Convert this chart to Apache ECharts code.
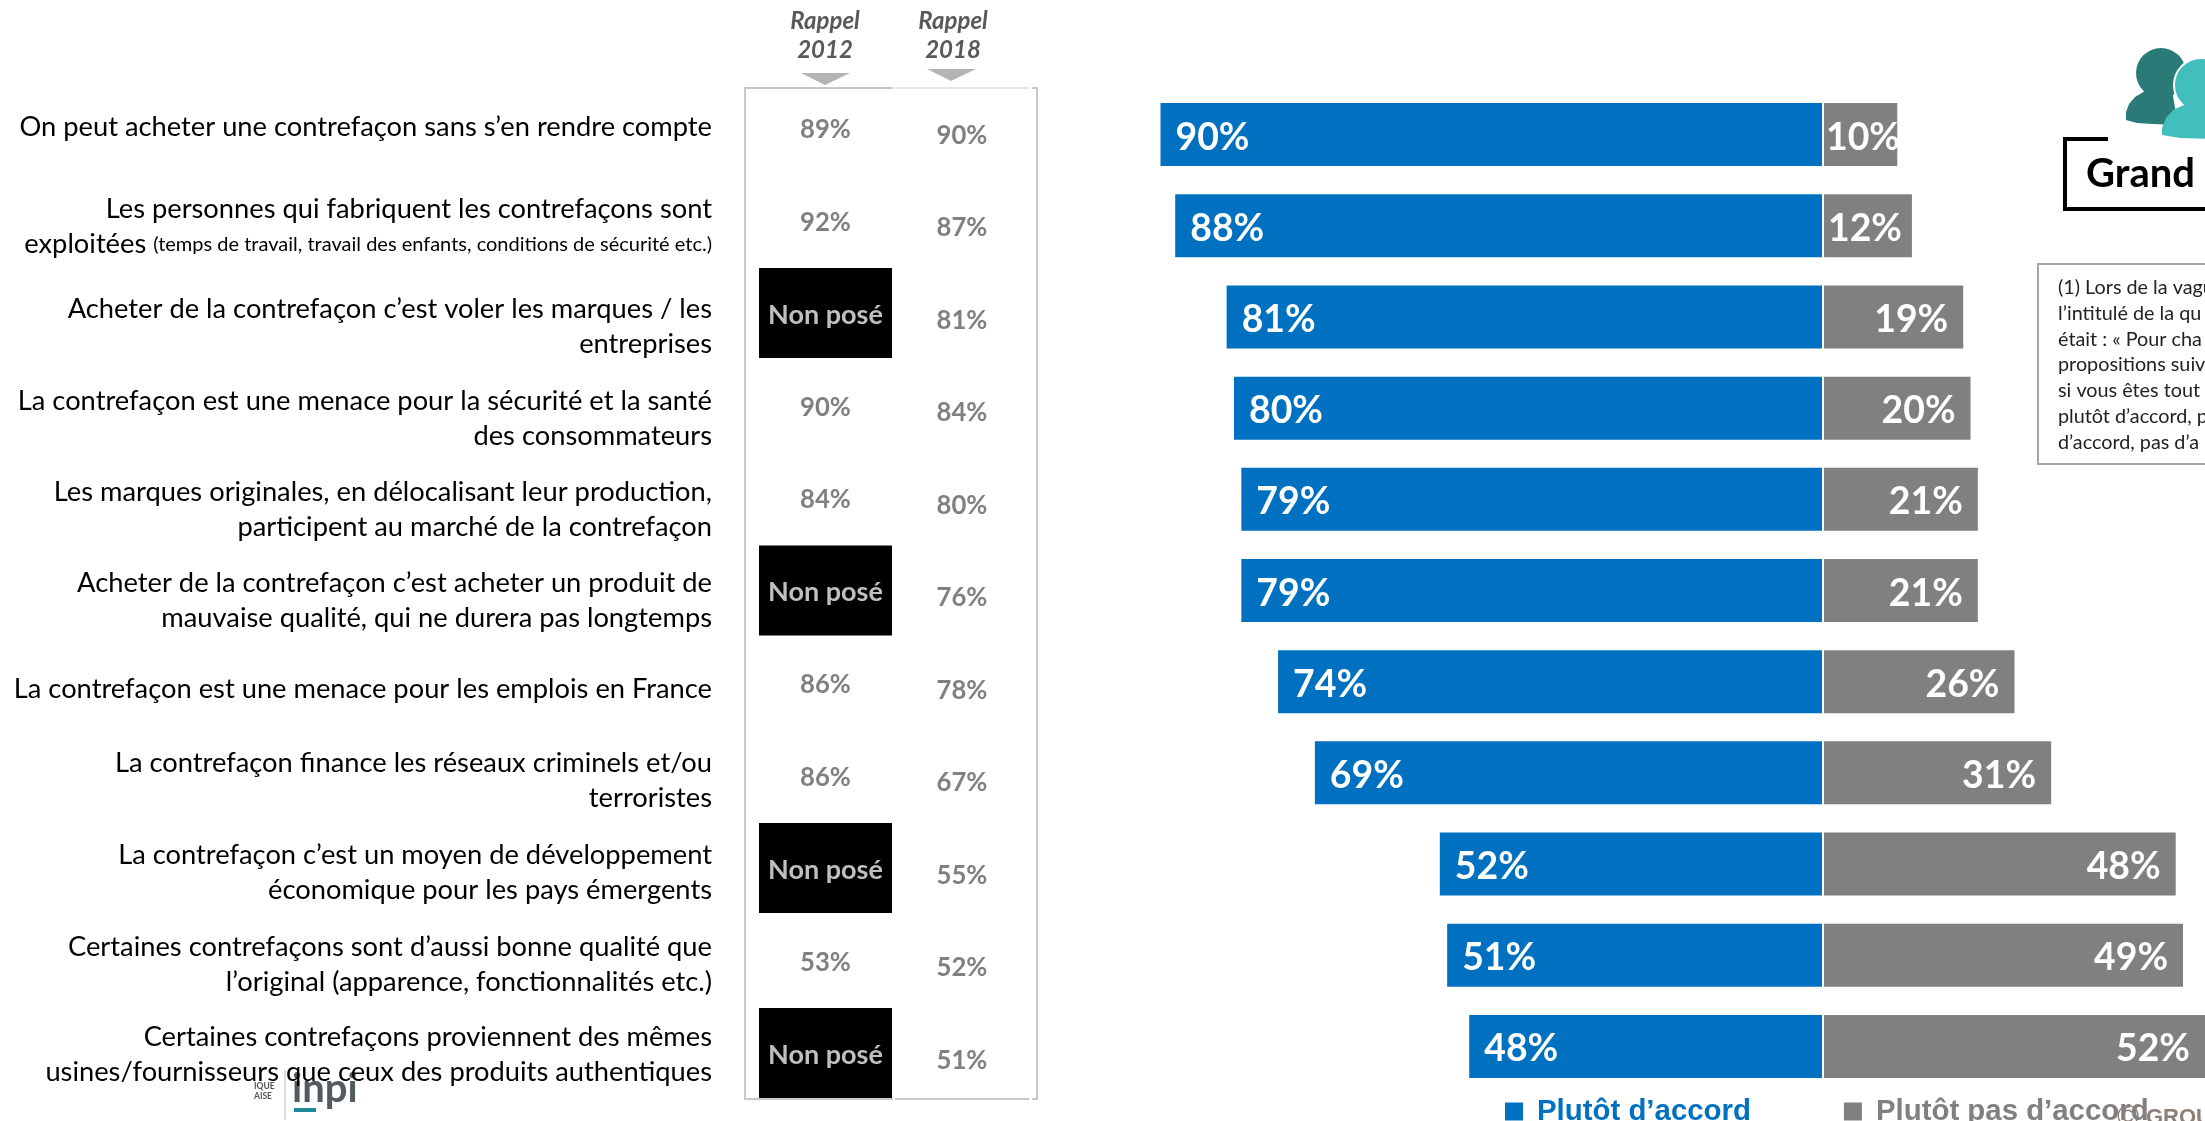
<!DOCTYPE html>
<html lang="fr">
<head>
<meta charset="utf-8">
<title>Perceptions de la contrefaçon</title>
<style>html,body{margin:0;padding:0;background:#fff;overflow:hidden}#chart{width:2205px;height:1121px}</style>
<script src="https://cdn.jsdelivr.net/npm/echarts@6/dist/echarts.min.js"></script>
</head>
<body>
<div id="chart"></div>
<script>
const statements = [
  'On peut acheter une contrefaçon sans s’en rendre compte',
  'Les personnes qui fabriquent les contrefaçons sont\nexploitées (temps de travail, travail des enfants, conditions de sécurité etc.)',
  'Acheter de la contrefaçon c’est voler les marques / les\nentreprises',
  'La contrefaçon est une menace pour la sécurité et la santé\ndes consommateurs',
  'Les marques originales, en délocalisant leur production,\nparticipent au marché de la contrefaçon',
  'Acheter de la contrefaçon c’est acheter un produit de\nmauvaise qualité, qui ne durera pas longtemps',
  'La contrefaçon est une menace pour les emplois en France',
  'La contrefaçon finance les réseaux criminels et/ou\nterroristes',
  'La contrefaçon c’est un moyen de développement\néconomique pour les pays émergents',
  'Certaines contrefaçons sont d’aussi bonne qualité que\nl’original (apparence, fonctionnalités etc.)',
  'Certaines contrefaçons proviennent des mêmes\nusines/fournisseurs que ceux des produits authentiques'
];
const agree = [90, 88, 81, 80, 79, 79, 74, 69, 52, 51, 48];
const disagree = [10, 12, 19, 20, 21, 21, 26, 31, 48, 49, 52];
const recall2012 = [89, 92, null, 90, 84, null, 86, 86, null, 53, null];
const recall2018 = [90, 87, 81, 84, 80, 76, 78, 67, 55, 52, 51];
const recallColumns = ['Rappel 2012', 'Rappel 2018'];
const seriesNames = ['Plutôt d’accord', 'Plutôt pas d’accord'];
const footnoteLines = [
  '(1) Lors de la vagu', 'l’intitulé de la qu', 'était : « Pour cha', 'propositions suiv',
  'si vous êtes tout a', 'plutôt d’accord, p', 'd’accord, pas d’a'
];

const BLUE = '#0070C0', GREY = '#808080', FRAME = '#c8c8c8';
const SANS = 'Lato, "Noto Sans", sans-serif';
const rowIds = statements.map((_, i) => i);

// Statement text sits slightly off the bar rows; per-row shift in pixels.
const statementShift = [-7, 1, 10, 11, 10, 10, 8, 8, 9, 9, 8];
const SMALL_NOTE = '(temps de travail, travail des enfants, conditions de sécurité etc.)';

function richStatement(text) {
  return text.split('\n').map(line => {
    if (line.includes(SMALL_NOTE)) {
      return `{a|${line.replace(SMALL_NOTE, '')}}{b|${SMALL_NOTE}}`;
    }
    return `{a|${line}}`;
  }).join('\n');
}

const hiddenAxis = { show: false };
const rowAxis = idx => ({ type: 'category', gridIndex: idx, data: rowIds, inverse: true, show: false });

function recallSeries(values, column, shiftY) {
  return {
    type: 'custom', name: recallColumns[column], coordinateSystem: 'cartesian2d',
    xAxisIndex: 2, yAxisIndex: 2, silent: true, clip: false, z: 4,
    data: values.map((v, i) => [column, i, v]),
    encode: { x: 0, y: 1 },
    renderItem(params, api) {
      const p = api.coord([column, params.dataIndex]);
      const v = values[params.dataIndex];
      const y = p[1] + shiftY;
      if (v === null) {
        return {
          type: 'group',
          children: [
            { type: 'rect', shape: { x: p[0] - 66.5, y: y - 45, width: 133, height: 90 }, style: { fill: '#000' } },
            { type: 'text', style: { text: 'Non posé', x: p[0], y: y + 2, align: 'center', verticalAlign: 'middle',
              fill: '#bfbfbf', font: `bold 27px ${SANS}` } }
          ]
        };
      }
      return { type: 'text', style: { text: v + '%', x: p[0], y: y + 2, align: 'center', verticalAlign: 'middle',
        fill: GREY, font: `bold 25.7px ${SANS}` } };
    }
  };
}

const logoAndDecor = [
  // Table frame
  { type: 'line', shape: { x1: 745, y1: 88, x2: 893, y2: 88 }, style: { stroke: FRAME, lineWidth: 2 } },
  { type: 'line', shape: { x1: 895, y1: 88, x2: 1029, y2: 88 }, style: { stroke: '#dcdcdc', lineWidth: 1.5 } },
  { type: 'line', shape: { x1: 1032, y1: 88, x2: 1038, y2: 88 }, style: { stroke: FRAME, lineWidth: 2 } },
  { type: 'line', shape: { x1: 745, y1: 87, x2: 745, y2: 1100 }, style: { stroke: FRAME, lineWidth: 2 } },
  { type: 'line', shape: { x1: 1037, y1: 87, x2: 1037, y2: 1100 }, style: { stroke: FRAME, lineWidth: 2 } },
  { type: 'line', shape: { x1: 745, y1: 1099, x2: 893, y2: 1099 }, style: { stroke: FRAME, lineWidth: 2 } },
  { type: 'line', shape: { x1: 895, y1: 1099, x2: 1029, y2: 1099 }, style: { stroke: FRAME, lineWidth: 2 } },
  { type: 'line', shape: { x1: 1032, y1: 1099, x2: 1038, y2: 1099 }, style: { stroke: FRAME, lineWidth: 2 } },
  // Column headers with their arrows
  { type: 'text', style: { text: 'Rappel\n2012', x: 825, y: 36, align: 'center', verticalAlign: 'middle', lineHeight: 29,
    fill: '#595959', font: `italic bold 24px ${SANS}` } },
  { type: 'text', style: { text: 'Rappel\n2018', x: 953, y: 36, align: 'center', verticalAlign: 'middle', lineHeight: 29,
    fill: '#595959', font: `italic bold 24px ${SANS}` } },
  { type: 'polygon', shape: { points: [[801, 73], [850, 73], [825, 85]] }, style: { fill: '#b4b4b4' } },
  { type: 'polygon', shape: { points: [[927, 69], [976, 69], [951, 81]] }, style: { fill: '#b4b4b4' } },
  // Audience badge
  { type: 'circle', shape: { cx: 2161, cy: 73, r: 25 }, style: { fill: '#2a7a78' } },
  { type: 'polygon', shape: { points: [[2126, 120], [2126, 112], [2129, 104], [2135, 97], [2145, 91], [2172, 90], [2178, 125], [2153, 124], [2137, 123]] }, style: { fill: '#2a7a78' } },
  { type: 'circle', shape: { cx: 2201, cy: 85, r: 27 }, style: { fill: '#40bfbc', stroke: '#fff', lineWidth: 2 } },
  { type: 'polygon', shape: { points: [[2162, 135], [2162, 128], [2166, 118], [2173, 110], [2184, 105], [2210, 105], [2210, 139], [2180, 138]] }, style: { fill: '#40bfbc' } },
  { type: 'polyline', shape: { points: [[2108, 139], [2065, 139], [2065, 209], [2215, 209]] }, style: { stroke: '#000', lineWidth: 4, fill: null } },
  { type: 'text', style: { text: 'Grand', x: 2086, y: 174, align: 'left', verticalAlign: 'middle', fill: '#000', font: `bold 40px ${SANS}` } },
  // Footnote box
  { type: 'rect', shape: { x: 2038, y: 264, width: 220, height: 200 }, style: { fill: '#fff', stroke: '#a6a6a6', lineWidth: 2 } },
  ...footnoteLines.map((t, i) => ({ type: 'text', style: { text: t, x: 2058, y: 288 + i * 25.7, align: 'left', verticalAlign: 'middle',
    fill: '#222', font: `19.8px ${SANS}` } })),
  // Institute logo
  { type: 'text', z: 1, style: { text: 'IQUE\nAISE', x: 254, y: 1091, align: 'left', verticalAlign: 'middle', lineHeight: 10, fill: '#555', font: `bold 8.5px ${SANS}` } },
  { type: 'line', z: 1, shape: { x1: 285, y1: 1070, x2: 285, y2: 1120 }, style: { stroke: '#bbbbbb', lineWidth: 1 } },
  { type: 'text', z: 1, style: { text: 'inpi', x: 292, y: 1089, align: 'left', verticalAlign: 'middle', fill: '#515b60', font: `bold 40px ${SANS}` } },
  { type: 'rect', z: 1, shape: { x: 294, y: 1108, width: 22, height: 4 }, style: { fill: '#1f8a9c' } },
  // Copyright mark
  { type: 'text', z: 10, style: { text: '©', x: 2117, y: 1118, align: 'left', verticalAlign: 'middle', fill: '#8b7f78', font: `30px "Liberation Sans", sans-serif` } },
  { type: 'text', z: 10, style: { text: 'GROU', x: 2146, y: 1118, align: 'left', verticalAlign: 'middle', fill: '#8b7f78', font: `bold 22px "Liberation Sans", sans-serif` } }
];

// The two smallest right-hand labels start at the bar's base rather than its end.
const disagreeData = disagree.map(v => v < 15
  ? { value: v, label: { position: 'insideLeft', distance: v < 11 ? 2 : 4 } }
  : v);

const chart = echarts.init(document.getElementById('chart'), null, { renderer: 'canvas' });
chart.setOption({
  animation: false,
  backgroundColor: '#fff',
  legend: {
    show: true, left: 1505, top: 1097, padding: 0, itemWidth: 18, itemHeight: 18, itemGap: 93, icon: 'rect', selectedMode: false,
    data: [
      { name: seriesNames[0], textStyle: { color: BLUE } },
      { name: seriesNames[1], textStyle: { color: GREY } }
    ],
    textStyle: { fontFamily: '"Liberation Sans", sans-serif', fontWeight: 'bold', fontSize: 29.4, padding: [0, 0, 0, 9] }
  },
  graphic: { elements: logoAndDecor },
  grid: [
    { left: 1087, top: 89, width: 735, height: 1003 },
    { left: 1824, top: 89, width: 381, height: 1003 },
    { left: 757.25, top: 87.4, width: 273, height: 1017.5 },
    { left: 0, top: 89, width: 712, height: 1003 }
  ],
  xAxis: [
    { type: 'value', gridIndex: 0, min: 0, max: 100, inverse: true, ...hiddenAxis },
    { type: 'value', gridIndex: 1, min: 0, max: 52, ...hiddenAxis },
    { type: 'category', gridIndex: 2, data: recallColumns, ...hiddenAxis },
    { type: 'value', gridIndex: 3, min: 0, max: 1, ...hiddenAxis }
  ],
  yAxis: [rowAxis(0), rowAxis(1), rowAxis(2), rowAxis(3)],
  series: [
    {
      name: seriesNames[0], type: 'bar', xAxisIndex: 0, yAxisIndex: 0, barWidth: 63, silent: true,
      itemStyle: { color: BLUE }, data: agree,
      label: { show: true, position: 'insideLeft', distance: 15, offset: [0, 3], formatter: '{c}%', color: '#fff',
        fontFamily: SANS, fontWeight: 'bold', fontSize: 37.4 }
    },
    {
      name: seriesNames[1], type: 'bar', xAxisIndex: 1, yAxisIndex: 1, barWidth: 63, silent: true,
      itemStyle: { color: GREY }, data: disagreeData,
      label: { show: true, position: 'insideRight', distance: 15, offset: [0, 3], formatter: '{c}%', color: '#fff',
        fontFamily: SANS, fontWeight: 'bold', fontSize: 37.4 }
    },
    recallSeries(recall2012, 0, -5.6),
    recallSeries(recall2018, 1, 0),
    {
      type: 'custom', name: 'Propositions', coordinateSystem: 'cartesian2d', xAxisIndex: 3, yAxisIndex: 3,
      silent: true, clip: false, z: 5,
      data: statements.map((_, i) => [1, i]),
      encode: { x: 0, y: 1 },
      renderItem(params, api) {
        const p = api.coord([1, params.dataIndex]);
        return {
          type: 'text',
          style: {
            text: richStatement(statements[params.dataIndex]),
            x: p[0], y: p[1] + statementShift[params.dataIndex], align: 'right', verticalAlign: 'middle',
            rich: {
              a: { fontFamily: SANS, fontSize: 27.3, lineHeight: 35, fill: '#000' },
              b: { fontFamily: SANS, fontSize: 20, lineHeight: 35, fill: '#000' }
            }
          }
        };
      }
    }
  ]
});
</script>
</body>
</html>
